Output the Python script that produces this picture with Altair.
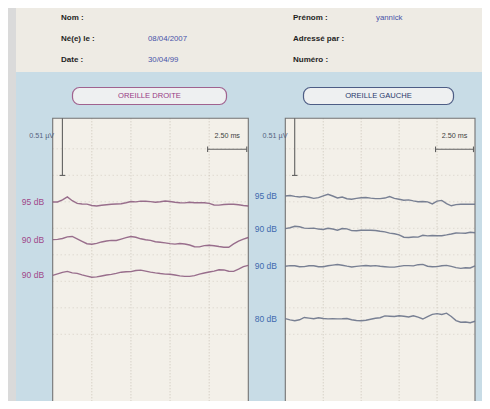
import altair as alt
import pandas as pd

# ------------------------------------------------------------------
# DATA (values read from the recording)
# ------------------------------------------------------------------
sweep_ms = 12.5
time_ms = [round(i * 0.3125, 4) for i in range(41)]   # sampling instants

calibration_uv = 0.51
calibration_ms = 2.50

panel_titles = ["OREILLE DROITE", "OREILLE GAUCHE"]

# Oreille droite (left panel)
droite_levels = ["95 dB", "90 dB", "90 dB"]
droite_offsets_uv = [-0.747, -1.083, -1.402]
droite_95 = [0, 0, 0.018, 0.045, 0.011, -0.013, -0.018, -0.019, -0.031, -0.036,
             -0.029, -0.025, -0.021, -0.018, -0.016, -0.007, 0.004, 0.001, 0.007, 0.007,
             0.003, -0.002, 0.002, 0.009, 0.004, -0.003, -0.007, -0.008, -0.003, -0.007,
             -0.007, -0.007, -0.013, -0.027, -0.028, -0.023, -0.021, -0.021, -0.025, -0.031,
             -0.036]
droite_90a = [0, 0.002, 0.010, 0.024, 0.028, 0.007, -0.015, -0.037, -0.042, -0.034,
              -0.021, -0.013, -0.007, -0.008, 0.004, 0.017, 0.027, 0.021, 0.007, -0.001,
              -0.007, -0.019, -0.024, -0.029, -0.036, -0.040, -0.035, -0.039, -0.048, -0.064,
              -0.065, -0.054, -0.051, -0.055, -0.062, -0.068, -0.069, -0.039, -0.013, 0.004,
              0.019]
droite_90b = [0, 0.013, 0.026, 0.035, 0.022, 0.017, 0.004, -0.007, -0.017, -0.014,
              -0.006, 0.003, 0.008, 0.017, 0.028, 0.032, 0.033, 0.043, 0.046, 0.037,
              0.029, 0.022, 0.016, 0.011, 0.009, 0.003, -0.005, -0.009, -0.009, -0.003,
              0.011, 0.021, 0.030, 0.038, 0.050, 0.048, 0.036, 0.035, 0.055, 0.077,
              0.089]

# Oreille gauche (right panel)
gauche_levels = ["95 dB", "90 dB", "90 dB", "80 dB"]
gauche_offsets_uv = [-0.694, -0.985, -1.321, -1.788]
gauche_95 = [0, 0.005, -0.003, -0.009, -0.003, -0.011, -0.021, -0.014, 0.001, 0.015,
             0, -0.017, -0.009, -0.024, -0.029, -0.021, -0.016, -0.013, -0.019, -0.023,
             -0.023, -0.018, -0.004, -0.021, -0.029, -0.037, -0.034, -0.043, -0.051, -0.049,
             -0.052, -0.070, -0.046, -0.039, -0.067, -0.087, -0.077, -0.074, -0.074, -0.073,
             -0.074]
gauche_90a = [0, 0.008, 0.021, 0.017, 0.004, 0.002, 0.004, -0.004, -0.008, 0.003,
              -0.003, -0.014, 0.001, -0.002, -0.018, -0.019, -0.015, -0.013, -0.014, -0.017,
              -0.024, -0.029, -0.040, -0.046, -0.056, -0.077, -0.079, -0.075, -0.076, -0.060,
              -0.065, -0.062, -0.063, -0.063, -0.056, -0.048, -0.039, -0.040, -0.041, -0.032,
              -0.037]
gauche_90b = [0, 0.006, 0.004, -0.004, -0.003, 0.005, 0.005, -0.004, -0.004, 0.004,
              0.010, 0.016, 0.009, 0.001, -0.006, -0.001, 0.003, 0.007, 0.002, 0.006,
              0, -0.004, -0.008, -0.008, -0.001, 0.006, 0.006, 0.003, 0.014, 0.017,
              0, -0.005, -0.003, 0.005, 0.008, -0.001, -0.012, -0.019, -0.013, -0.015,
              0.003]
gauche_80 = [0, -0.012, -0.020, -0.011, 0.010, 0.004, -0.002, 0.007, 0.001, -0.003,
             -0.002, -0.003, -0.002, 0, -0.011, -0.017, -0.020, -0.015, -0.006, 0.003,
             0.007, 0.024, 0.021, 0.018, 0.025, 0.021, 0.014, 0.025, 0.013, -0.004,
             0.018, 0.037, 0.044, 0.036, 0.048, 0.018, -0.018, -0.033, -0.031, -0.037,
             -0.024]

header_labels = ["Nom :", "Né(e) le :", "Date :", "Prénom :", "Adressé par :", "Numéro :"]
header_values = ["", "08/04/2007", "30/04/99", "yannick", "", ""]

# ------------------------------------------------------------------
# LAYOUT / STYLE
# ------------------------------------------------------------------
W, H = 474, 393          # whole canvas (page margin is 8 px)
ORIGIN = 8
PX_PER_UV = 112.0
PLOT_TOP = 118.3
FONT = "Liberation Sans"

PAGE_GRAY = "#dadada"
HEADER_BG = "#eeebe4"
BLUE_BG = "#c8dce6"
PLOT_BG = "#f3f0e9"
BORDER = "#737373"
GRID = "#c6bfb3"
BAR = "#606060"

header_label_x = [61, 61, 61, 293, 293, 293]
header_value_x = [148, 148, 148, 376, 376, 376]
header_row_y = [17.5, 38.5, 59.5, 17.5, 38.5, 59.5]

px = alt.Scale(domain=[ORIGIN, ORIGIN + W], nice=False, zero=False)
py = alt.Scale(domain=[ORIGIN, ORIGIN + H], reverse=True, nice=False, zero=False)


def PX(f):
    return alt.X(f, type="quantitative", scale=px, axis=None)


def PY(f):
    return alt.Y(f, type="quantitative", scale=py, axis=None)


# ---------------- decoration (page, header, buttons) ----------------
bg = pd.DataFrame({
    "x": [ORIGIN, 16, 16],
    "x2": [16, ORIGIN + W, ORIGIN + W],
    "y": [ORIGIN, ORIGIN, 72],
    "y2": [ORIGIN + H, 72, ORIGIN + H],
    "fill": [PAGE_GRAY, HEADER_BG, BLUE_BG],
})
bg_layer = alt.Chart(bg).mark_rect().encode(
    x=PX("x"), x2="x2", y=PY("y"), y2="y2", fill=alt.Color("fill:N", scale=None))

buttons = pd.DataFrame({
    "x": [72.5, 303.5], "x2": [226.5, 453.5], "y": [87.5, 87.5], "y2": [104.5, 104.5],
    "stroke": ["#a0628f", "#4d5d85"], "fill": ["#eef0f1", "#eef0f1"],
    "label": panel_titles, "color": ["#983a84", "#28396c"],
})
btn_layer = alt.Chart(buttons).mark_rect(cornerRadius=7, strokeWidth=1.2).encode(
    x=PX("x"), x2="x2", y=PY("y"), y2="y2",
    fill=alt.Color("fill:N", scale=None), stroke=alt.Color("stroke:N", scale=None))
btn_text = alt.Chart(buttons).transform_calculate(
    xc="(datum.x + datum.x2) / 2", yc="(datum.y + datum.y2) / 2"
).mark_text(font=FONT, fontSize=7.6, align="center", baseline="middle").encode(
    x=PX("xc"), y=PY("yc"), text="label:N", color=alt.Color("color:N", scale=None))

hdr_lab = pd.DataFrame({"x": header_label_x, "y": header_row_y, "t": header_labels})
hdr_val = pd.DataFrame({"x": header_value_x, "y": header_row_y, "t": header_values})
hdr_lab_layer = alt.Chart(hdr_lab).mark_text(
    font=FONT, fontSize=8, fontWeight="bold", align="left", baseline="middle", color="#1e1e1e"
).encode(x=PX("x"), y=PY("y"), text="t:N")
hdr_val_layer = alt.Chart(hdr_val).mark_text(
    font=FONT, fontSize=7.8, align="left", baseline="middle", color="#4853a8"
).encode(x=PX("x"), y=PY("y"), text="t:N")

decor = alt.layer(bg_layer, btn_layer, btn_text, hdr_lab_layer, hdr_val_layer)


# ---------------- one ear panel ----------------
def ear_panel(x_left, x_right, levels, offsets, traces, line_color, label_color):
    px_per_ms = (x_right - x_left) / sweep_ms
    xs = alt.Scale(domain=[(ORIGIN - x_left) / px_per_ms, (ORIGIN + W - x_left) / px_per_ms],
                   nice=False, zero=False)
    y_lo = (PLOT_TOP - (ORIGIN + H)) / PX_PER_UV
    y_hi = (PLOT_TOP - ORIGIN) / PX_PER_UV
    ys = alt.Scale(domain=[y_lo, y_hi], nice=False, zero=False)

    def X(f):
        return alt.X(f, type="quantitative", scale=xs, axis=None)

    def Y(f):
        return alt.Y(f, type="quantitative", scale=ys, axis=None)

    v_bottom = y_lo - 0.3

    frame = pd.DataFrame({"t0": [0.0], "t1": [sweep_ms], "v0": [0.0], "v1": [v_bottom]})
    fill_layer = alt.Chart(frame).mark_rect(fill=PLOT_BG).encode(
        x=X("t0"), x2="t1", y=Y("v0"), y2="v1")
    border_layer = alt.Chart(frame).mark_rect(fill=None, stroke=BORDER, strokeWidth=1.1).encode(
        x=X("t0"), x2="t1", y=Y("v0"), y2="v1")

    vgrid = pd.DataFrame({"t": [2.5, 5.0, 7.5, 10.0], "v0": 0.0, "v1": v_bottom})
    vgrid_layer = alt.Chart(vgrid).mark_rule(
        color=GRID, strokeWidth=0.9, strokeDash=[1, 2]).encode(x=X("t"), y=Y("v0"), y2="v1")

    step = 26.5 / PX_PER_UV
    first = (PLOT_TOP - 228.3) / PX_PER_UV
    hv = [first + k * step for k in range(-4, 8) if -0.05 > first + k * step > y_lo]
    hgrid = pd.DataFrame({"v": hv, "t0": 0.0, "t1": sweep_ms})
    hgrid_layer = alt.Chart(hgrid).mark_rule(
        color=GRID, strokeWidth=0.8, strokeDash=[1, 3], opacity=0.8).encode(
        x=X("t0"), x2="t1", y=Y("v"))

    rows = []
    for k, tr in enumerate(traces):
        for t, a in zip(time_ms, tr):
            rows.append({"trace": k, "t": t, "v": offsets[k] + a})
    trace_layer = alt.Chart(pd.DataFrame(rows)).mark_line(
        color=line_color, strokeWidth=1.4, opacity=0.9).encode(
        x=X("t"), y=Y("v"), detail="trace:N")

    lab = pd.DataFrame({"t": -0.55, "v": offsets, "label": levels})
    lab_layer = alt.Chart(lab).mark_text(
        font=FONT, fontSize=8.5, align="right", baseline="middle", color=label_color
    ).encode(x=X("t"), y=Y("v"), text="label:N")

    # calibration bars
    bar_t = 0.62
    ms_end = 12.4
    ms_v = -0.277
    bars = pd.DataFrame({
        "t0": [bar_t, bar_t - 0.18, ms_end - calibration_ms, ms_end - calibration_ms, ms_end],
        "t1": [bar_t, bar_t + 0.18, ms_end, ms_end - calibration_ms, ms_end],
        "v0": [0.0, -calibration_uv, ms_v, ms_v + 0.025, ms_v + 0.025],
        "v1": [-calibration_uv, -calibration_uv, ms_v, ms_v - 0.025, ms_v - 0.025],
    })
    bar_layer = alt.Chart(bars).mark_rule(color=BAR, strokeWidth=1.1).encode(
        x=X("t0"), x2="t1", y=Y("v0"), y2="v1")

    cal_text = pd.DataFrame({
        "t": [-1.5], "v": [-0.16], "label": [f"{calibration_uv:.2f} µV"]})
    cal_layer = alt.Chart(cal_text).mark_text(
        font=FONT, fontSize=7.2, align="left", baseline="middle", color="#55617e"
    ).encode(x=X("t"), y=Y("v"), text="label:N")
    ms_text = pd.DataFrame({
        "t": [ms_end - calibration_ms / 2], "v": [-0.16], "label": [f"{calibration_ms:.2f} ms"]})
    ms_layer = alt.Chart(ms_text).mark_text(
        font=FONT, fontSize=7.2, align="center", baseline="middle", color="#404040"
    ).encode(x=X("t"), y=Y("v"), text="label:N")

    return alt.layer(fill_layer, vgrid_layer, hgrid_layer, border_layer, trace_layer,
                     bar_layer, lab_layer, cal_layer, ms_layer)


left_panel = ear_panel(52.7, 248.3, droite_levels, droite_offsets_uv,
                       [droite_95, droite_90a, droite_90b], "#8e5f82", "#a0488a")
right_panel = ear_panel(285.3, 475.0, gauche_levels, gauche_offsets_uv,
                        [gauche_95, gauche_90a, gauche_90b, gauche_80], "#6a7389", "#3e6aae")

chart = alt.layer(decor, left_panel, right_panel).resolve_scale(
    x="independent", y="independent"
).properties(
    width=W, height=H, padding=0,
    autosize=alt.AutoSizeParams(type="none"),
    background=BLUE_BG,
).configure_view(stroke=None)

chart.save("out.html", embed_options={"renderer": "svg", "actions": False})
